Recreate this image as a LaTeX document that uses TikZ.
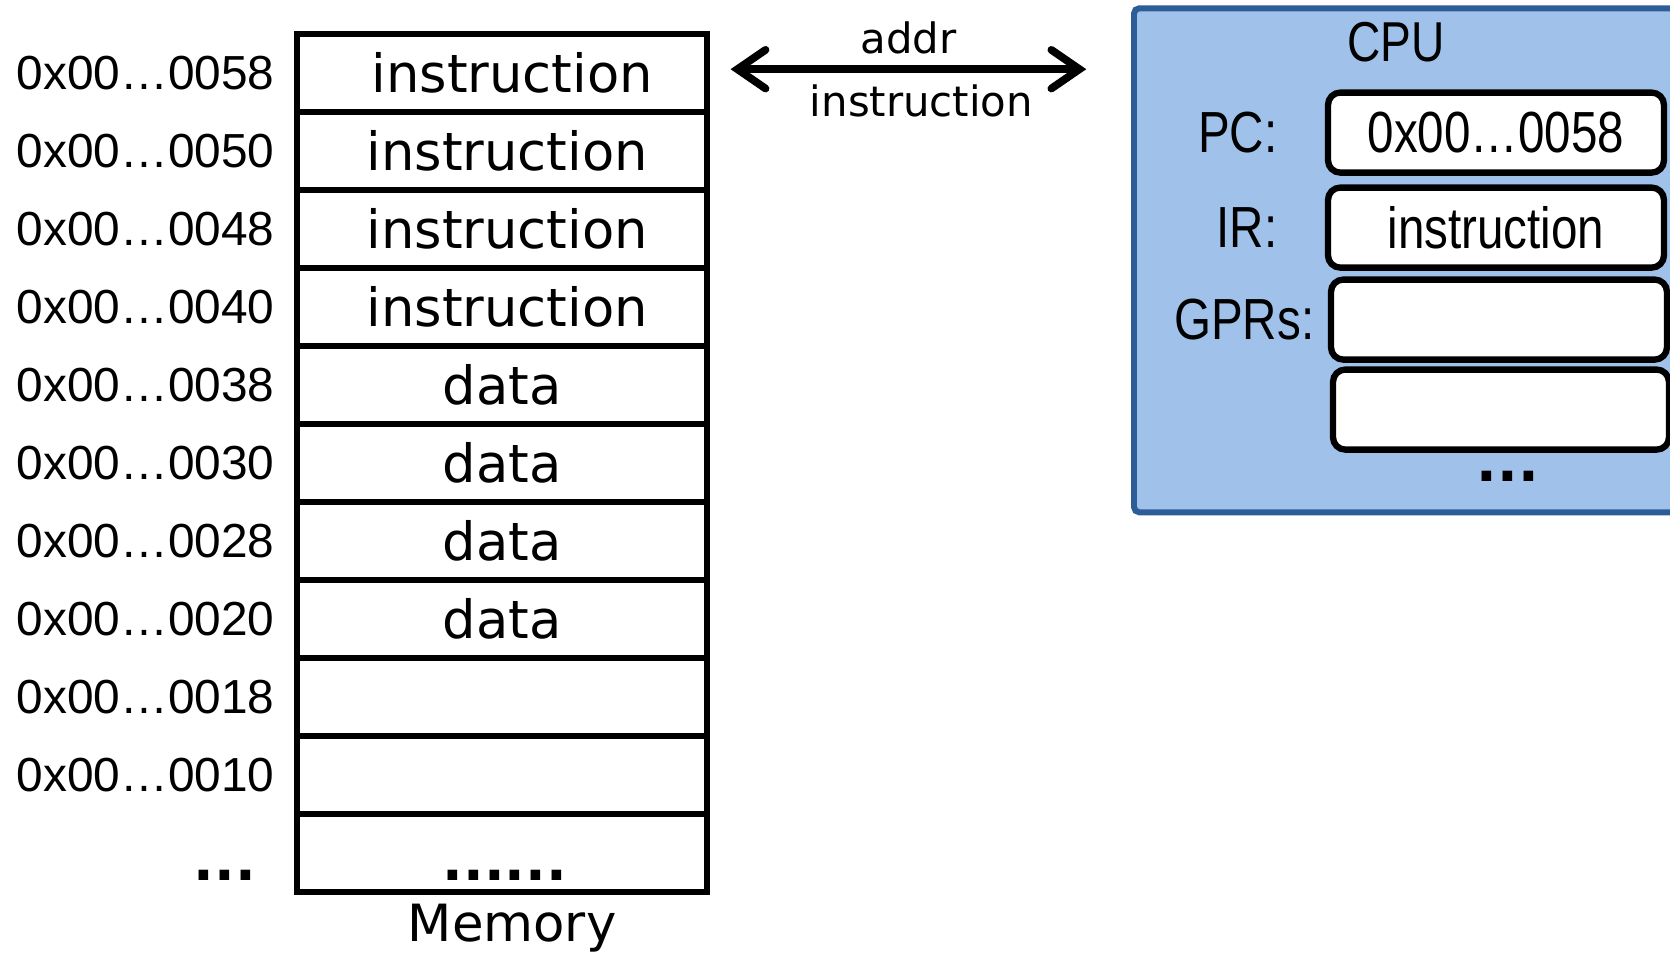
\documentclass[tikz,border=0pt]{standalone}
\usepackage{fontspec}
\setmainfont{DejaVu Sans}
\newfontfamily\addrfont{Liberation Sans}
\newfontfamily\narrowfont[FakeStretch=0.82]{Liberation Sans}
\usetikzlibrary{positioning,arrows.meta}
\definecolor{cpufill}{RGB}{160,194,234}
\definecolor{cpuline}{RGB}{44,93,150}
\tikzset{
  cell/.style={draw, line width=1.5pt, minimum width=4.10cm, minimum height=0.78cm,
    inner sep=0pt, outer sep=0pt, font=\fontsize{15}{18}\selectfont},
  addr/.style={inner sep=0pt, font=\addrfont\fontsize{13.6}{16}\selectfont},
  cpubox/.style={draw=cpuline, fill=cpufill, line width=1.7pt, rounded corners=1.5pt},
  reg/.style={draw, line width=1.8pt, rounded corners=3.5pt, fill=white, minimum width=3.36cm,
    minimum height=0.80cm, inner sep=0pt, outer sep=0pt, font=\narrowfont\fontsize{16.5}{20}\selectfont},
  reglabel/.style={inner sep=0pt, font=\narrowfont\fontsize{16.5}{20}\selectfont},
  dots/.style={inner sep=0pt, font=\bfseries\fontsize{15.5}{18}\selectfont},
  bus/.style={line width=2.2pt, line cap=round, {Straight Barb[length=8pt,width=11pt,line cap=round]}-{Straight Barb[length=8pt,width=11pt,line cap=round]}}
}
\begin{document}
\begin{tikzpicture}
  \useasboundingbox (0,0) rectangle (16.7,-9.55);
  \clip (0,0) rectangle (16.7,-9.55);
  % memory
  \node (m1) [cell] at (5.021,-0.731) {\hspace{0.2cm}instruction};
  \node (m2) [cell, below=0pt of m1] {\hspace{0.1cm}instruction};
  \node (m3) [cell, below=0pt of m2] {\hspace{0.1cm}instruction};
  \node (m4) [cell, below=0pt of m3] {\hspace{0.1cm}instruction};
  \node (m5) [cell, below=0pt of m4] {data};
  \node (m6) [cell, below=0pt of m5] {data};
  \node (m7) [cell, below=0pt of m6] {data};
  \node (m8) [cell, below=0pt of m7] {data};
  \node (m9) [cell, below=0pt of m8] {};
  \node (m10) [cell, below=0pt of m9] {};
  \node (m11) [cell, below=0pt of m10] {};
  \node (mdots) [dots] at (5.048,-8.754) {......};
  \node (mem) [below=0pt of m11, xshift=0.1cm, font=\fontsize{14.6}{17}\selectfont] {Memory};
  \node (a1) [addr, left=0.22cm of m1] {0x00…0058};
  \node (a2) [addr, left=0.22cm of m2] {0x00…0050};
  \node (a3) [addr, left=0.22cm of m3] {0x00…0048};
  \node (a4) [addr, left=0.22cm of m4] {0x00…0040};
  \node (a5) [addr, left=0.22cm of m5] {0x00…0038};
  \node (a6) [addr, left=0.22cm of m6] {0x00…0030};
  \node (a7) [addr, left=0.22cm of m7] {0x00…0028};
  \node (a8) [addr, left=0.22cm of m8] {0x00…0020};
  \node (a9) [addr, left=0.22cm of m9] {0x00…0018};
  \node (a10) [addr, left=0.22cm of m10] {0x00…0010};
  \node (adots) [dots] at (2.247,-8.754) {...};
  % bus
  \coordinate (busl) at (7.306,-0.692);
  \coordinate (busr) at (10.863,-0.692);
  \draw [bus] (busl) -- (busr)
    node [midway, above, font=\fontsize{11.9}{14}\selectfont] {addr}
    node [midway, below, xshift=0.13cm, font=\fontsize{11.9}{14}\selectfont] {instruction};
  % cpu
  \node (cpu) [cpubox, anchor=north west, minimum width=6cm, minimum height=5.04cm] at (11.31,-0.053) {};
  \node (cputitle) [reglabel, font=\narrowfont\fontsize{16}{19}\selectfont] at (13.96,-0.426) {CPU};
  \node (pc) [reg, anchor=west] at (13.28,-1.326) {0x00…0058};
  \node (ir) [reg, below=0.15cm of pc] {instruction};
  \node (gpr1) [reg, below=0.12cm of ir, xshift=0.03cm] {};
  \node (gpr2) [reg, below=0.10cm of gpr1, xshift=0.02cm] {};
  \node (pclabel) [reglabel, left=0.50cm of pc] {PC:};
  \node (irlabel) [reglabel, left=0.50cm of ir] {IR:};
  \node (gprlabel) [reglabel, left=0.16cm of gpr1] {GPRs:};
  \node (cdots) [dots] at (15.08,-4.76) {...};
\end{tikzpicture}
\end{document}
